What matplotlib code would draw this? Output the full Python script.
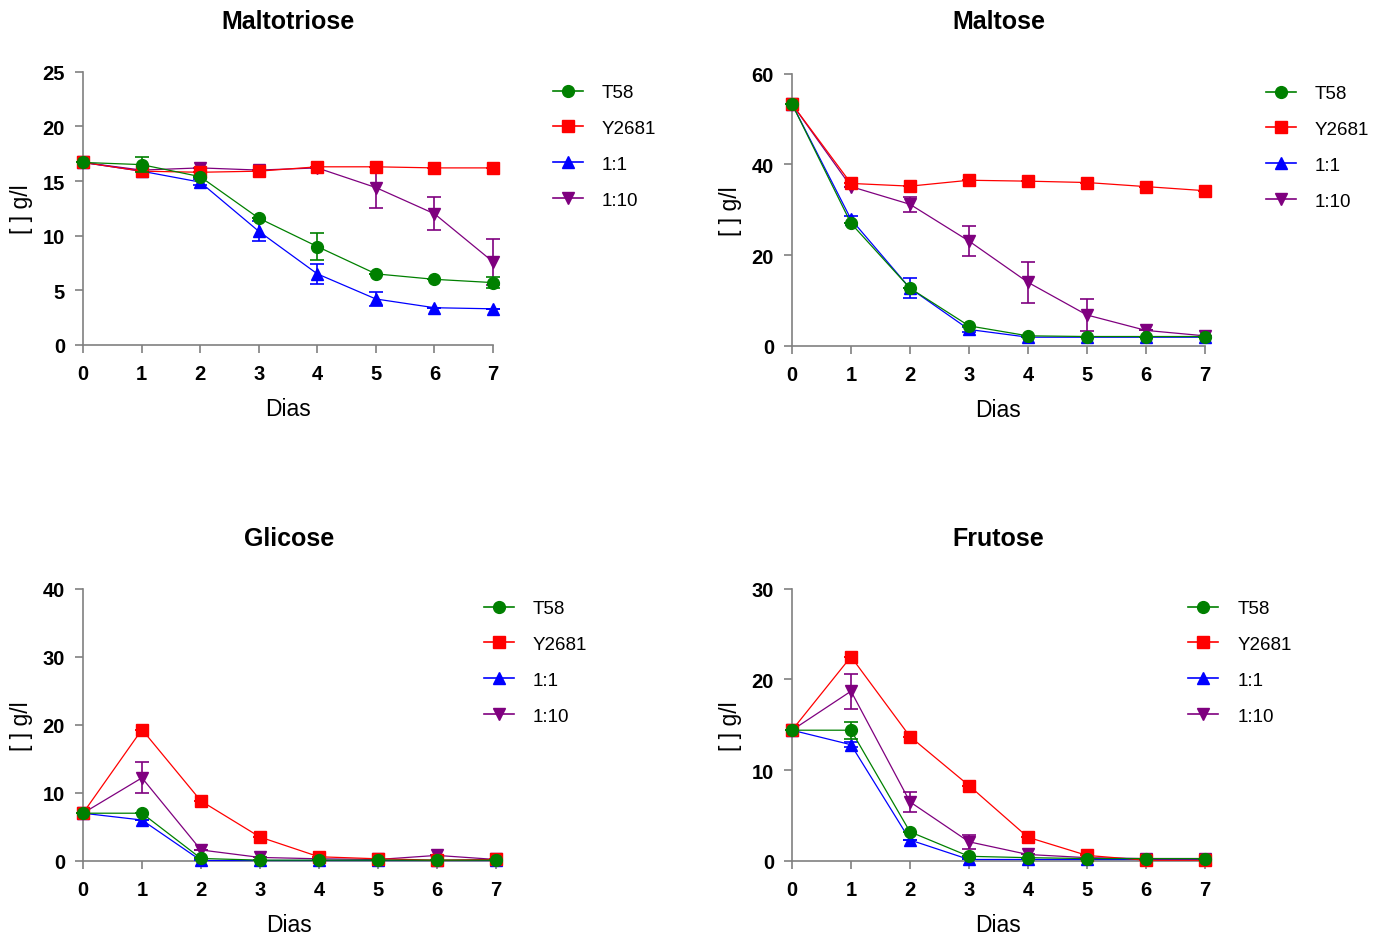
import matplotlib
matplotlib.use("Agg")
import matplotlib.pyplot as plt
from matplotlib.lines import Line2D

plt.rcParams['font.family'] = ['Liberation Sans', 'DejaVu Sans']

# %% Data.
days = [0, 1, 2, 3, 4, 5, 6, 7]
series = ["T58", "Y2681", "1:1", "1:10"]

# Maltotriose
maltotriose_t58 = [16.7, 16.5, 15.4, 11.6, 9.0, 6.5, 6.0, 5.7]
maltotriose_y2681 = [16.7, 15.9, 15.8, 15.9, 16.3, 16.3, 16.2, 16.2]
maltotriose_11 = [16.7, 15.9, 14.9, 10.4, 6.5, 4.2, 3.4, 3.3]
maltotriose_110 = [16.7, 16.0, 16.2, 16.0, 16.2, 14.4, 12.0, 7.6]
maltotriose_t58_err = [0, 0.7, 0, 0, 1.2, 0, 0, 0.5]
maltotriose_y2681_err = [0, 0, 0, 0, 0, 0, 0, 0]
maltotriose_11_err = [0, 0, 0.3, 0.9, 0.9, 0.6, 0, 0]
maltotriose_110_err = [0, 0, 0, 0, 0, 1.9, 1.5, 2.1]

# Maltose
maltose_t58 = [53.3, 27.0, 12.7, 4.4, 2.2, 2.05, 2.05, 2.05]
maltose_y2681 = [53.3, 35.8, 35.2, 36.5, 36.3, 36.0, 35.1, 34.2]
maltose_11 = [53.3, 27.9, 12.7, 3.6, 1.9, 1.9, 1.9, 1.9]
maltose_110 = [53.3, 35.1, 31.2, 23.1, 14.0, 6.8, 3.4, 2.2]
maltose_t58_err = [0, 0, 0, 0, 0, 0, 0, 0]
maltose_y2681_err = [0, 0, 0, 0, 0, 0, 0, 0]
maltose_11_err = [0, 0.8, 2.2, 0.5, 0, 0, 0, 0]
maltose_110_err = [0, 0, 1.6, 3.3, 4.5, 3.5, 0, 0]

# Glicose
glicose_t58 = [7.0, 7.0, 0.35, 0.1, 0.1, 0.1, 0.1, 0.1]
glicose_y2681 = [7.0, 19.3, 8.8, 3.5, 0.6, 0.3, 0.1, 0.2]
glicose_11 = [7.0, 6.0, 0.05, 0.05, 0.05, 0.05, 0.05, 0.05]
glicose_110 = [7.0, 12.2, 1.6, 0.5, 0.3, 0.2, 0.8, 0.2]
glicose_t58_err = [0, 0, 0, 0, 0, 0, 0, 0]
glicose_y2681_err = [0, 0, 0, 0, 0, 0, 0, 0]
glicose_11_err = [0, 0, 0, 0, 0, 0, 0, 0]
glicose_110_err = [0, 2.3, 0, 0, 0, 0, 0, 0]

# Frutose
frutose_t58 = [14.4, 14.4, 3.2, 0.5, 0.35, 0.25, 0.25, 0.25]
frutose_y2681 = [14.4, 22.5, 13.7, 8.3, 2.6, 0.6, 0.07, 0.07]
frutose_11 = [14.4, 12.8, 2.3, 0.15, 0.15, 0.15, 0.15, 0.15]
frutose_110 = [14.4, 18.7, 6.5, 2.1, 0.7, 0.35, 0.25, 0.25]
frutose_t58_err = [0, 0.95, 0, 0, 0, 0, 0, 0]
frutose_y2681_err = [0, 0, 0, 0, 0, 0, 0, 0]
frutose_11_err = [0, 0.3, 0, 0, 0, 0, 0, 0]
frutose_110_err = [0, 1.95, 1.1, 0.8, 0, 0, 0, 0]

panels = [
    ("Maltotriose", [maltotriose_t58, maltotriose_y2681, maltotriose_11, maltotriose_110],
     [maltotriose_t58_err, maltotriose_y2681_err, maltotriose_11_err, maltotriose_110_err],
     25, [0, 5, 10, 15, 20, 25]),
    ("Maltose", [maltose_t58, maltose_y2681, maltose_11, maltose_110],
     [maltose_t58_err, maltose_y2681_err, maltose_11_err, maltose_110_err],
     60, [0, 20, 40, 60]),
    ("Glicose", [glicose_t58, glicose_y2681, glicose_11, glicose_110],
     [glicose_t58_err, glicose_y2681_err, glicose_11_err, glicose_110_err],
     40, [0, 10, 20, 30, 40]),
    ("Frutose", [frutose_t58, frutose_y2681, frutose_11, frutose_110],
     [frutose_t58_err, frutose_y2681_err, frutose_11_err, frutose_110_err],
     30, [0, 10, 20, 30]),
]

# %% Styles.
colors = ['#008000', '#ff0000', '#0000ff', '#7f007f']
markers = ['o', 's', '^', 'v']
zorders = [5, 4, 3, 2]
axes_rects = [
    [0.0597, 0.634, 0.295, 0.289],
    [0.5698, 0.633, 0.297, 0.288],
    [0.0597, 0.088, 0.297, 0.288],
    [0.5698, 0.088, 0.297, 0.288],
]
title_pads = [31.5, 33, 31.5, 31.5]
legend_anchors = [(0.398, 0.910), (0.911, 0.909), (0.348, 0.364), (0.855, 0.364)]
spine_color = '#808080'

fig = plt.figure(figsize=(13.9, 9.45), dpi=100)

for (title, values, errors, ymax, yticks), rect, tpad, anchor in zip(
        panels, axes_rects, title_pads, legend_anchors):
    ax = fig.add_axes(rect)
    for i in range(len(series)):
        eb = ax.errorbar(days, values[i], yerr=errors[i], color=colors[i],
                         marker=markers[i], markersize=8.5, linewidth=0.9,
                         elinewidth=1.2, capsize=5, capthick=1.2,
                         zorder=zorders[i], clip_on=False)
        artists = [eb.lines[0]] + list(eb.lines[1]) + list(eb.lines[2])
        for artist in artists:
            if artist is not None:
                artist.set_clip_on(False)

    ax.set_xlim(0, 7)
    ax.set_ylim(0, ymax)
    ax.set_xticks(days)
    ax.set_yticks(yticks)
    for side in ['top', 'right']:
        ax.spines[side].set_visible(False)
    for side in ['left', 'bottom']:
        ax.spines[side].set_color(spine_color)
        ax.spines[side].set_linewidth(1.2)
    ax.tick_params(direction='out', length=6, width=1.2, color=spine_color,
                   labelsize=14.5)
    ax.tick_params(axis='x', pad=8)
    ax.tick_params(axis='y', pad=7)
    for lab in ax.get_xticklabels() + ax.get_yticklabels():
        lab.set_fontweight('bold')

    ax.set_title(title, fontsize=18, fontweight='bold', pad=tpad)
    ax.set_xlabel("Dias", fontsize=16.5, labelpad=10)
    ax.set_ylabel("[ ] g/l", fontsize=16.5, labelpad=7)

    handles = [Line2D([], [], color=colors[i], marker=markers[i], markersize=8.5,
                      linewidth=1.2) for i in range(len(series))]
    fig.legend(handles, series, loc='upper left', bbox_to_anchor=anchor,
               frameon=False, fontsize=13.5, handlelength=1.6, handletextpad=1.0,
               labelspacing=1.0, borderpad=0, borderaxespad=0)

plt.savefig("out.png", dpi=100)
